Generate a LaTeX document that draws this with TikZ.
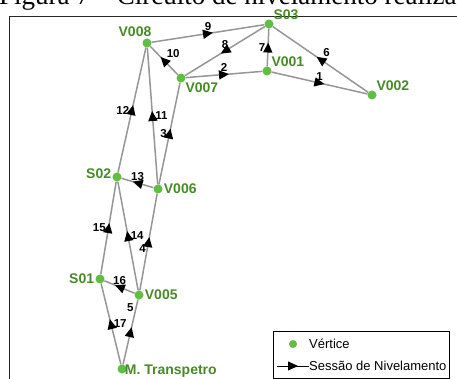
\documentclass[tikz,border=0pt]{standalone}
\usepackage{fontspec}
\setmainfont{Liberation Sans}
\newfontfamily\capfont{Liberation Serif}
\usetikzlibrary{arrows.meta}
\usetikzlibrary{decorations.markings}
\definecolor{vgreen}{RGB}{96,190,64}
\definecolor{vtext}{RGB}{72,138,40}
\definecolor{segray}{RGB}{150,150,150}
\tikzset{
  vtx/.style={circle,fill=vgreen,inner sep=0pt,minimum size=9pt},
  vname/.style={text=vtext,font=\fontsize{14}{16}\selectfont\bfseries,inner sep=1pt},
  num/.style={font=\fontsize{11.5}{13}\selectfont\bfseries,inner sep=2pt},
  midtip/.style={postaction={decorate},decoration={markings,
      mark=at position 0.5 with {\arrow[xshift=5pt]{Triangle[length=10pt,width=9pt,color=black]}}}},
  seg/.style={draw=segray,line width=1.5pt,midtip},
}

\begin{document}
\begin{tikzpicture}[x=1pt,y=-1pt]
\clip (0,0) rectangle (457,379);
\node[font=\capfont\fontsize{27}{30}\selectfont,anchor=base west,inner sep=0pt] (caption) at (-1,5)
  {Figura 7 – Circuito de nivelamento realizado};
\draw[line width=0.9pt,black!85] (9,16) rectangle (470,395);

% vertices
\node[vtx,label={[vname,xshift=-12pt]above:V008}] (V008) at (147,43) {};
\node[vtx,label={[vname]above right:S03}] (S03) at (269,24) {};
\node[vtx,label={[vname]below right:V007}] (V007) at (181,78) {};
\node[vtx,label={[vname]above right:V001}] (V001) at (267,71) {};
\node[vtx,label={[vname]above right:V002}] (V002) at (372,95) {};
\node[vtx,label={[vname,yshift=3pt]left:S02}] (S02) at (117,177) {};
\node[vtx,label={[vname]right:V006}] (V006) at (158,189) {};
\node[vtx,label={[vname]left:S01}] (S01) at (100,279) {};
\node[vtx,label={[vname]right:V005}] (V005) at (139,295) {};
\node[vtx,label={[vname,xshift=-3pt,yshift=-2pt]right:M. Transpetro}] (MT) at (122,369) {};

% sessions
\path[every edge/.style={seg},nodes={num}]
  (V001) edge node [above] {1} (V002)
  (V007) edge node [above] {2} (V001)
  (V006) edge node [left] {3} (V007)
  (V005) edge node [below left] {4} (V006)
  (MT) edge node [pos=0.88,left] {5} (V005)
  (V002) edge node [above right] {6} (S03)
  (V001) edge node [left] {7} (S03)
  (S03) edge node [above] {8} (V007)
  (V008) edge node [above] {9} (S03)
  (V007) edge node [above right] {10} (V008)
  (V006) edge node [right] {11} (V008)
  (S02) edge node [left] {12} (V008)
  (V006) edge node [above] {13} (S02)
  (V005) edge node [right] {14} (S02)
  (S01) edge node [left] {15} (S02)
  (V005) edge node [above] {16} (S01)
  (MT) edge node [right] {17} (S01)
  ;

% legend
\draw[line width=0.8pt] (273,331) rectangle (449,378);
\node[vtx,minimum size=8pt] (keydot) at (293,344) {};
\node[anchor=west,inner sep=0pt,font=\fontsize{13}{15}\selectfont] (keyvtx) at (309,344) {Vértice};
\coordinate (keya) at (277,366);
\coordinate (keyb) at (309,366);
\path[draw=black,line width=0.8pt,midtip] (keya) -- (keyb);
\node[anchor=west,inner sep=0pt,font=\fontsize{13}{15}\selectfont] (keyses) at (309,366) {Sessão de Nivelamento};
\end{tikzpicture}
\end{document}
